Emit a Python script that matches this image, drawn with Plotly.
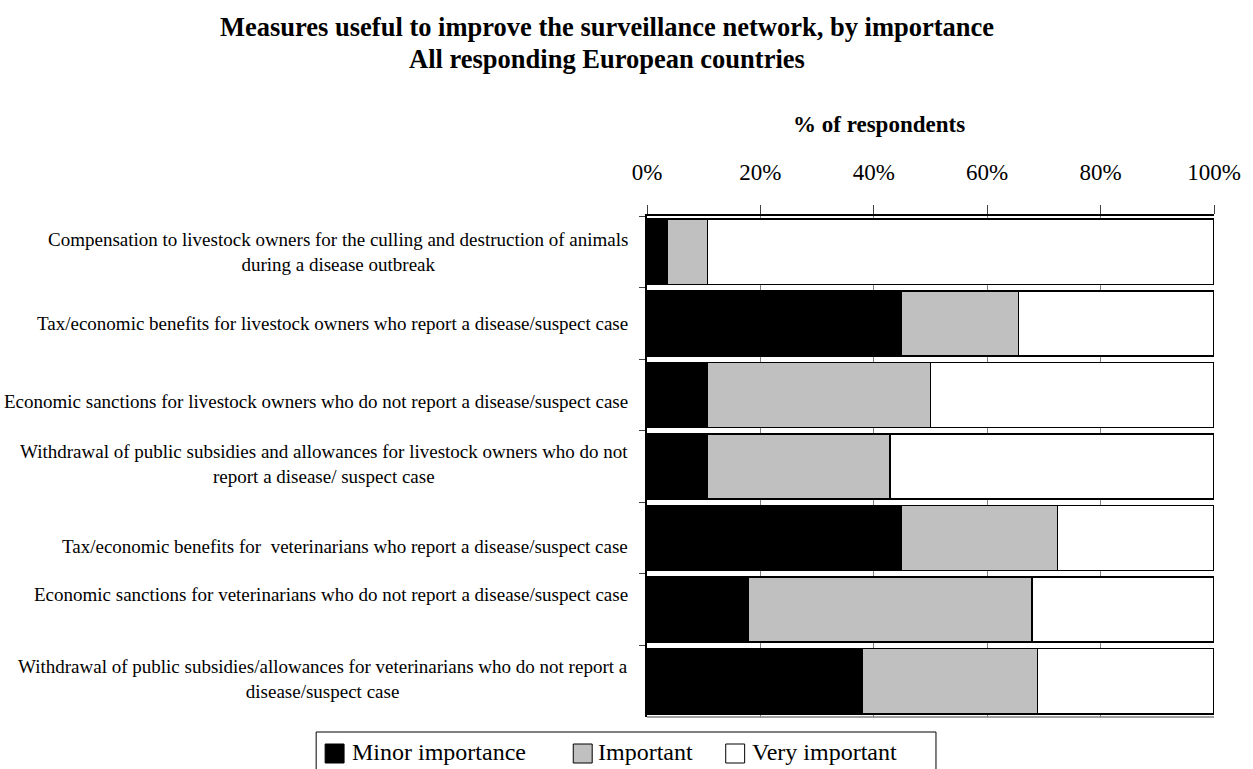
import plotly.graph_objects as go

# ---------------- data ----------------
categories = [
    "Compensation to livestock owners for the culling and destruction of animals<br>during a disease outbreak",
    "Tax/economic benefits for livestock owners who report a disease/suspect case",
    "Economic sanctions for livestock owners who do not report a disease/suspect case",
    "Withdrawal of public subsidies and allowances for livestock owners who do not<br>report a disease/ suspect case",
    "Tax/economic benefits for  veterinarians who report a disease/suspect case",
    "Economic sanctions for veterinarians who do not report a disease/suspect case",
    "Withdrawal of public subsidies/allowances for veterinarians who do not report a<br>disease/suspect case",
]
minor_importance = [3.6, 44.8, 10.7, 10.7, 44.8, 17.9, 37.9]
important = [7.1, 20.7, 39.3, 32.2, 27.6, 50.0, 31.0]
very_important = [89.3, 34.5, 50.0, 57.1, 27.6, 32.1, 31.1]

series_names = ["Minor importance", "Important", "Very important"]
tick_values = [0, 20, 40, 60, 80, 100]
tick_labels = ["0%", "20%", "40%", "60%", "80%", "100%"]

title_line1 = "Measures useful to improve the surveillance network, by importance"
title_line2 = "All responding European countries"
axis_title = "% of respondents"

# ---------------- layout helpers ----------------
W, H = 1253, 769
L, R, T, B = 647, 1216, 216, 717
FONT = "Liberation Serif"


def px2x(px):
    return (px - L) / (R - L)


def px2y(py):
    return (B - py) / (B - T)


colors = ["#000000", "#C0C0C0", "#FFFFFF"]
series_values = [minor_importance, important, very_important]
ids = [f"c{i}" for i in range(len(categories))]

fig = go.Figure()
for name, vals, col in zip(series_names, series_values, colors):
    fig.add_trace(go.Bar(
        y=ids, x=vals, name=name, orientation="h",
        marker=dict(color=col, line=dict(color="#000000", width=1.6)),
        showlegend=False, hoverinfo="x+name",
    ))

annotations = []
label_shifts = [0, 0, -7, 3, -8, 15, 2]
for cid, text, ys in zip(ids, categories, label_shifts):
    annotations.append(dict(
        x=px2x(630), xref="paper", xanchor="right",
        y=cid, yref="y", yanchor="middle", yshift=ys,
        text=text, showarrow=False, align="center",
        font=dict(family=FONT, size=19, color="#000000"),
    ))

# title (two lines)
annotations.append(dict(x=px2x(607), xref="paper", xanchor="center",
                        y=px2y(27), yref="paper", yanchor="middle",
                        text="<b>" + title_line1 + "</b>", showarrow=False,
                        font=dict(family=FONT, size=26.5, color="#000000")))
annotations.append(dict(x=px2x(607), xref="paper", xanchor="center",
                        y=px2y(59), yref="paper", yanchor="middle",
                        text="<b>" + title_line2 + "</b>", showarrow=False,
                        font=dict(family=FONT, size=26.5, color="#000000")))
# axis title
annotations.append(dict(x=px2x(880), xref="paper", xanchor="center",
                        y=px2y(124), yref="paper", yanchor="middle",
                        text="<b>" + axis_title + "</b>", showarrow=False,
                        font=dict(family=FONT, size=23, color="#000000")))

shapes = [
    # bottom frame line
    dict(type="line", xref="paper", yref="paper", x0=0, x1=1, y0=0, y1=0,
         line=dict(color="#808080", width=1.5)),
    # legend box
    dict(type="rect", xref="paper", yref="paper",
         x0=px2x(315), x1=px2x(937), y0=px2y(790), y1=px2y(732),
         line=dict(color="#000000", width=1), fillcolor="rgba(0,0,0,0)"),
]

legend_sq = [(324, 343), (573, 592), (726, 745)]
legend_txt_x = [349, 596, 750]
for (x0, x1), tx, name, col in zip(legend_sq, legend_txt_x, series_names, colors):
    shapes.append(dict(type="rect", xref="paper", yref="paper",
                       x0=px2x(x0), x1=px2x(x1), y0=px2y(763), y1=px2y(744),
                       line=dict(color="#000000", width=1), fillcolor=col))
    annotations.append(dict(x=px2x(tx), xref="paper", xanchor="left",
                            y=px2y(752), yref="paper", yanchor="middle",
                            text=name, showarrow=False,
                            font=dict(family=FONT, size=24, color="#000000")))

fig.update_layout(
    width=W, height=H,
    margin=dict(l=L, r=W - R, t=T, b=H - B, pad=0),
    barmode="stack", bargap=0.09,
    plot_bgcolor="#FFFFFF", paper_bgcolor="#FFFFFF",
    font=dict(family=FONT, size=19, color="#000000"),
    annotations=annotations, shapes=shapes,
    showlegend=False,
    xaxis=dict(
        range=[0, 100], side="top", tickvals=tick_values, ticktext=tick_labels,
        tickfont=dict(family=FONT, size=23, color="#000000"),
        showline=True, linecolor="#000000", linewidth=2,
        ticks="outside", ticklen=9, tickcolor="#404040", tickwidth=1,
        ticklabelstandoff=16,
        showgrid=True, gridcolor="#808080", gridwidth=1, zeroline=False,
        fixedrange=True,
    ),
    yaxis=dict(
        type="category", categoryorder="array", categoryarray=ids,
        autorange="reversed", showticklabels=False,
        showline=True, linecolor="#000000", linewidth=1.5,
        ticks="outside", ticklen=6, tickcolor="#404040", tickson="boundaries",
        showgrid=False, zeroline=False, fixedrange=True,
    ),
)

fig.write_html("out.html")
